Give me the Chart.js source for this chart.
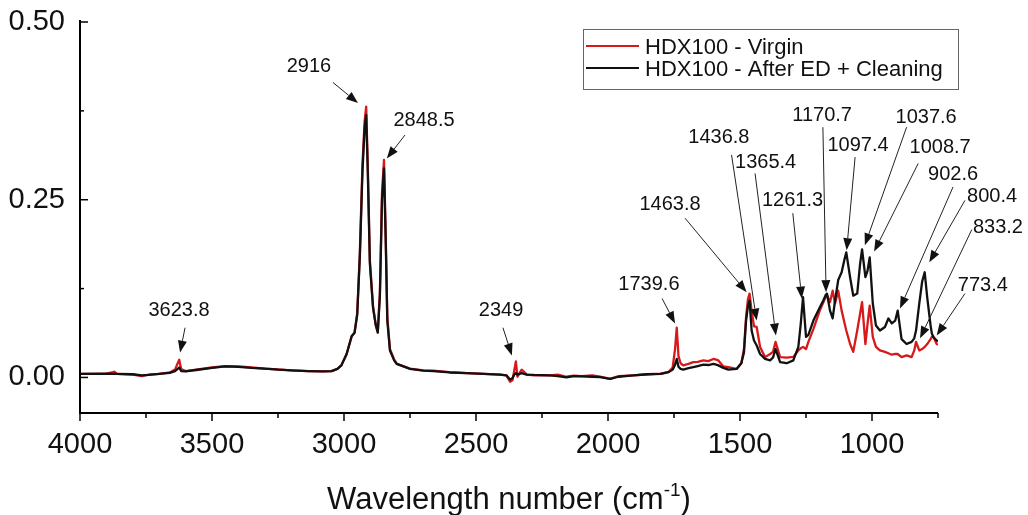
<!DOCTYPE html>
<html>
<head>
<meta charset="utf-8">
<script src="https://cdn.jsdelivr.net/npm/chart.js@4.4.1/dist/chart.umd.min.js"></script>
<style>
  html, body { margin: 0; padding: 0; background: #fff; }
  #wrap { width: 1028px; height: 515px; position: relative; }
</style>
</head>
<body>
<div id="wrap"><canvas id="ftir"></canvas></div>
<script>
"use strict"

// wavenumber (cm-1) shared by both spectra
const wavenumbers = [
  4000, 3900, 3870, 3860, 3800, 3766, 3740, 3700, 3660, 3640, 3630, 3624, 3617, 3600, 3560,
  3500, 3450, 3400, 3350, 3300, 3250, 3200, 3136, 3080, 3047, 3025, 3010, 2990, 2971, 2960,
  2950, 2940, 2930, 2922, 2916, 2910, 2902, 2890, 2880, 2872, 2864, 2856, 2848.5, 2842, 2836,
  2826, 2810, 2800, 2750, 2700, 2662, 2600, 2535, 2470, 2409, 2385, 2371, 2362, 2355, 2349,
  2343, 2335, 2327, 2318, 2308, 2280, 2220, 2190, 2157, 2130, 2100, 2060, 2030, 1992, 1960,
  1904, 1850, 1800, 1770, 1755, 1746, 1739.6, 1733, 1725, 1715, 1695, 1677, 1660, 1639, 1620,
  1601, 1590, 1582, 1563, 1544, 1513, 1495, 1485, 1477, 1470, 1463.8, 1456, 1447, 1436.8, 1424,
  1405, 1386, 1375, 1365.4, 1348, 1323, 1298, 1279, 1270, 1261.3, 1250, 1241, 1222, 1197, 1185,
  1174, 1170.7, 1159, 1149, 1140, 1128, 1115, 1105, 1097.4, 1083, 1071, 1056, 1045, 1037.6, 1025,
  1017, 1008.7, 997, 985, 970, 951, 938, 925, 912, 902.6, 888, 869, 850, 840, 833.2,
  821, 810, 800.4, 791, 778, 773.4, 768, 755, 750
];

// HDX100 - Virgin
const virgin = [
  0.005, 0.0055, 0.008, 0.005, 0.004, 0.002, 0.004, 0.005, 0.007, 0.011, 0.020, 0.025, 0.012, 0.009, 0.011,
  0.014, 0.016, 0.0155, 0.014, 0.0125, 0.0115, 0.010, 0.009, 0.0085, 0.009, 0.012, 0.017, 0.033, 0.058, 0.063,
  0.090, 0.175, 0.300, 0.360, 0.381, 0.300, 0.165, 0.100, 0.075, 0.064, 0.120, 0.260, 0.306, 0.200, 0.085,
  0.040, 0.025, 0.019, 0.0125, 0.010, 0.0095, 0.0075, 0.006, 0.005, 0.004, 0.003, -0.006, -0.004, 0.010, 0.0225,
  0.001, 0.006, 0.011, 0.008, 0.004, 0.003, 0.0028, 0.004, 0.001, 0.0025, 0.002, 0.003, 0.001, -0.002, 0.002,
  0.003, 0.0045, 0.0055, 0.008, 0.014, 0.040, 0.070, 0.030, 0.020, 0.017, 0.019, 0.0215, 0.022, 0.024, 0.023,
  0.026, 0.025, 0.024, 0.0155, 0.0145, 0.012, 0.020, 0.040, 0.085, 0.110, 0.118, 0.094, 0.072, 0.071, 0.043,
  0.0286, 0.033, 0.036, 0.050, 0.0286, 0.028, 0.029, 0.038, 0.041, 0.043, 0.040, 0.050, 0.068, 0.095, 0.105,
  0.115, 0.116, 0.106, 0.122, 0.104, 0.122, 0.094, 0.078, 0.066, 0.047, 0.036, 0.066, 0.090, 0.106, 0.047,
  0.075, 0.101, 0.057, 0.043, 0.038, 0.036, 0.034, 0.032, 0.033, 0.033, 0.0286, 0.031, 0.0286, 0.038, 0.050,
  0.038, 0.040, 0.043, 0.047, 0.054, 0.057, 0.058, 0.047, 0.046
];

// HDX100 - After ED + Cleaning
const afterED = [
  0.005, 0.0052, 0.005, 0.005, 0.0045, 0.003, 0.0035, 0.005, 0.0065, 0.009, 0.012, 0.014, 0.009, 0.0085, 0.0105,
  0.0135, 0.0155, 0.015, 0.0135, 0.0125, 0.011, 0.010, 0.009, 0.0085, 0.009, 0.012, 0.017, 0.033, 0.058, 0.063,
  0.088, 0.170, 0.290, 0.350, 0.369, 0.290, 0.160, 0.098, 0.074, 0.063, 0.115, 0.250, 0.294, 0.193, 0.080,
  0.038, 0.024, 0.019, 0.012, 0.0095, 0.009, 0.007, 0.006, 0.005, 0.004, 0.003, -0.003, -0.001, 0.004, 0.006,
  0.004, 0.005, 0.006, 0.005, 0.004, 0.0035, 0.003, 0.002, 0.000, 0.002, 0.0015, 0.001, 0.0005, -0.002, 0.001,
  0.003, 0.0045, 0.005, 0.0075, 0.011, 0.018, 0.026, 0.015, 0.012, 0.011, 0.013, 0.0145, 0.016, 0.018, 0.0175,
  0.019, 0.018, 0.017, 0.0135, 0.011, 0.012, 0.020, 0.035, 0.080, 0.100, 0.108, 0.066, 0.052, 0.045, 0.033,
  0.026, 0.024, 0.028, 0.040, 0.0216, 0.020, 0.024, 0.043, 0.075, 0.113, 0.057, 0.060, 0.080, 0.099, 0.108,
  0.117, 0.118, 0.094, 0.083, 0.108, 0.137, 0.148, 0.165, 0.176, 0.141, 0.115, 0.118, 0.160, 0.180, 0.141,
  0.150, 0.169, 0.104, 0.073, 0.066, 0.071, 0.083, 0.076, 0.080, 0.094, 0.054, 0.047, 0.050, 0.055, 0.066,
  0.104, 0.135, 0.148, 0.113, 0.073, 0.062, 0.057, 0.052, 0.051
];

const xTicks = [4000, 3750, 3500, 3250, 3000, 2750, 2500, 2250, 2000, 1750, 1500, 1250, 1000, 750];
const yTicks = [0, 0.125, 0.25, 0.375, 0.5];

const peakLabels = ['3623.8', '2916', '2848.5', '2349', '1739.6', '1463.8', '1436.8', '1365.4', '1261.3',
  '1170.7', '1097.4', '1037.6', '1008.7', '902.6', '800.4', '833.2', '773.4'];

// callout layout in data units: [label x, label y, arrow start x, y, arrow tip x, y]
const callouts = [
  [3625, 0.094, 3602, 0.070, 3621, 0.035],
  [3133, 0.438, 3042, 0.415, 2947, 0.386],
  [2697, 0.362, 2769, 0.341, 2838, 0.308],
  [2405, 0.094, 2398, 0.070, 2364, 0.031],
  [1845, 0.131, 1795, 0.111, 1746, 0.076],
  [1765, 0.244, 1708, 0.224, 1475, 0.120],
  [1580, 0.337, 1532, 0.313, 1437, 0.080],
  [1403, 0.302, 1443, 0.287, 1364, 0.059],
  [1301, 0.249, 1300, 0.231, 1266, 0.111],
  [1189, 0.368, 1186, 0.352, 1174, 0.120],
  [1053, 0.326, 1064, 0.310, 1096, 0.179],
  [795, 0.366, 869, 0.352, 1027, 0.186],
  [742, 0.323, 825, 0.301, 992, 0.177],
  [693, 0.285, 693, 0.268, 894, 0.097],
  [545, 0.255, 648, 0.249, 783, 0.162],
  [523, 0.211, 622, 0.208, 818, 0.055],
  [580, 0.129, 648, 0.118, 755, 0.059]
];

const FONT = '"Liberation Sans", Arial, sans-serif';

function toPoints(vals) {
  return wavenumbers.map((w, i) => ({ x: w, y: vals[i] }));
}

function arrow(ctx, x1, y1, x2, y2) {
  const a = Math.atan2(y2 - y1, x2 - x1);
  const len = 12, half = 4.5;
  const bx = x2 - len * Math.cos(a), by = y2 - len * Math.sin(a);
  ctx.beginPath();
  ctx.moveTo(x1, y1);
  ctx.lineTo(bx, by);
  ctx.stroke();
  ctx.beginPath();
  ctx.moveTo(x2, y2);
  ctx.lineTo(bx + half * Math.sin(a), by - half * Math.cos(a));
  ctx.lineTo(bx - half * Math.sin(a), by + half * Math.cos(a));
  ctx.closePath();
  ctx.fill();
}

// axes, tick marks, axis title, legend and peak callouts
const decor = {
  id: 'decor',
  afterDatasetsDraw(chart) {
    const ctx = chart.ctx;
    const xs = chart.scales.x, ys = chart.scales.y;
    const area = chart.chartArea;
    ctx.save();

    // axis lines
    ctx.strokeStyle = '#000';
    ctx.lineWidth = 2;
    ctx.beginPath();
    ctx.moveTo(area.left, area.top - 2);
    ctx.lineTo(area.left, area.bottom);
    ctx.lineTo(area.right, area.bottom);
    ctx.stroke();

    // tick marks: x outward, y inward
    ctx.lineWidth = 1.5;
    xTicks.forEach(v => {
      const px = xs.getPixelForValue(v);
      const l = v % 500 === 0 ? 8 : 5;
      ctx.beginPath();
      ctx.moveTo(px, area.bottom);
      ctx.lineTo(px, area.bottom + l);
      ctx.stroke();
    });
    yTicks.forEach(v => {
      const py = ys.getPixelForValue(v);
      const major = Math.abs(v * 4 - Math.round(v * 4)) < 1e-9;
      ctx.beginPath();
      ctx.moveTo(area.left, py);
      ctx.lineTo(area.left + (major ? 8 : 4), py);
      ctx.stroke();
    });

    // x axis title with superscript
    ctx.fillStyle = '#111';
    ctx.textBaseline = 'alphabetic';
    ctx.textAlign = 'left';
    const big = '31px ' + FONT, small = '19px ' + FONT;
    const t1 = 'Wavelength number (cm', t2 = '-1', t3 = ')';
    ctx.font = big;
    const w1 = ctx.measureText(t1).width, w3 = ctx.measureText(t3).width;
    ctx.font = small;
    const w2 = ctx.measureText(t2).width;
    let tx = (area.left + area.right) / 2 - (w1 + w2 + w3) / 2;
    const base = 509;
    ctx.font = big;
    ctx.fillText(t1, tx, base);
    ctx.font = small;
    ctx.fillText(t2, tx + w1, base - 13);
    ctx.font = big;
    ctx.fillText(t3, tx + w1 + w2, base);

    // legend box
    ctx.strokeStyle = '#666';
    ctx.lineWidth = 1;
    ctx.strokeRect(583.5, 29.5, 375, 60);
    ctx.font = '22px ' + FONT;
    chart.data.datasets.forEach((ds, i) => {
      const y = 46 + i * 22;
      ctx.strokeStyle = ds.borderColor;
      ctx.lineWidth = 2;
      ctx.beginPath();
      ctx.moveTo(586, y);
      ctx.lineTo(639, y);
      ctx.stroke();
      ctx.fillStyle = '#111';
      ctx.fillText(ds.label, 645, y + 7.5);
    });

    // peak callouts
    ctx.font = '20px ' + FONT;
    ctx.textAlign = 'center';
    ctx.textBaseline = 'middle';
    ctx.strokeStyle = '#222';
    ctx.fillStyle = '#111';
    ctx.lineWidth = 1;
    peakLabels.forEach((txt, i) => {
      const c = callouts[i];
      ctx.fillText(txt, xs.getPixelForValue(c[0]), ys.getPixelForValue(c[1]));
      arrow(ctx,
        xs.getPixelForValue(c[2]), ys.getPixelForValue(c[3]),
        xs.getPixelForValue(c[4]), ys.getPixelForValue(c[5]));
    });
    ctx.restore();
  }
};

new Chart(document.getElementById('ftir'), {
  type: 'line',
  data: {
    datasets: [
      { label: 'HDX100 - Virgin', data: toPoints(virgin), borderColor: '#d7191c', borderWidth: 2.3, order: 1 },
      { label: 'HDX100 - After ED + Cleaning', data: toPoints(afterED), borderColor: '#111111', borderWidth: 2.3, order: 0 }
    ]
  },
  options: {
    responsive: true,
    maintainAspectRatio: false,
    animation: false,
    layout: { padding: { left: 0, top: 22, right: 90, bottom: 0 } },
    elements: {
      point: { radius: 0 },
      line: { tension: 0, borderJoinStyle: 'round', fill: false }
    },
    plugins: { legend: { display: false }, tooltip: { enabled: false } },
    scales: {
      x: {
        type: 'linear',
        reverse: true,
        min: 750,
        max: 4000,
        afterBuildTicks: s => { s.ticks = xTicks.map(v => ({ value: v })); },
        afterFit: s => { s.height = 102; },
        grid: { display: false, drawTicks: false },
        border: { display: false },
        ticks: {
          autoSkip: false,
          maxRotation: 0,
          padding: 15,
          color: '#111',
          font: { family: FONT, size: 29 },
          callback: v => (v % 500 === 0 ? String(v) : '')
        }
      },
      y: {
        min: -0.05,
        max: 0.5,
        afterBuildTicks: s => { s.ticks = yTicks.map(v => ({ value: v })); },
        afterFit: s => { s.width = 80; s.paddingTop = 0; s.paddingBottom = 0; },
        grid: { display: false, drawTicks: false },
        border: { display: false },
        ticks: {
          padding: 15,
          color: '#111',
          font: { family: FONT, size: 29 },
          callback: v => (Math.abs(v * 4 - Math.round(v * 4)) < 1e-9 ? v.toFixed(2) : '')
        }
      }
    }
  },
  plugins: [decor]
});
</script>
</body>
</html>
